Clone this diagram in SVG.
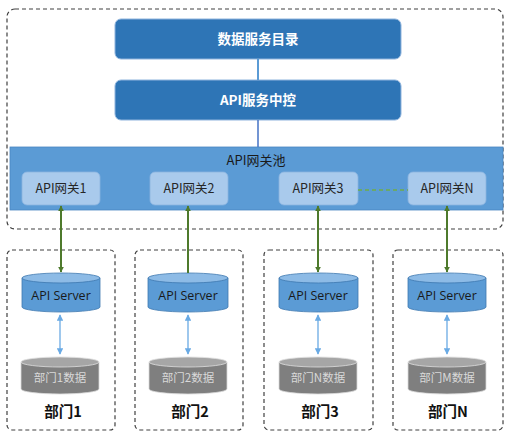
<svg xmlns="http://www.w3.org/2000/svg" width="512" height="438" viewBox="0 0 512 438">
<defs>
<style>
.dash{fill:none;stroke:#404040;stroke-width:1.2;stroke-dasharray:4 3}
.top{fill:#2e75b6;stroke:#8fb4dd;stroke-width:1}
.tt{font-family:"Noto Sans CJK SC",sans-serif;font-size:13.5px;font-weight:bold;fill:#fff;text-anchor:middle}
.gw{fill:#a9caec;stroke:#8ab4e0;stroke-width:0.8}
.gt{font-family:"Noto Sans CJK SC",sans-serif;font-size:12.5px;fill:#262626;text-anchor:middle}
.srv{fill:#5b9bd5;stroke:#3f78b0;stroke-width:0.8}
.srvtop{fill:#8dbbe6;stroke:#3f78b0;stroke-width:0.8}
.st{font-family:"Open Sans","Noto Sans",sans-serif;font-size:12.5px;fill:#1a1a1a;text-anchor:middle}
.db{fill:#7f7f7f;stroke:#d9d9d9;stroke-width:0.8}
.dbtop{fill:#a6a6a6;stroke:#e0e0e0;stroke-width:0.8}
.dt{font-family:"Noto Sans CJK SC",sans-serif;font-size:11.5px;fill:#d9d9d9;text-anchor:middle}
.dl{font-family:"Noto Sans CJK SC",sans-serif;font-size:14.5px;font-weight:bold;fill:#111;text-anchor:middle}
.g{stroke:#4e7a2c;stroke-width:2;fill:none}
.b{stroke:#6aaae4;stroke-width:1.3;fill:none}
</style>
<marker id="ag" viewBox="0 0 10 10" refX="9" refY="5" markerWidth="3" markerHeight="3" orient="auto-start-reverse"><path d="M0,0 L10,5 L0,10 z" fill="#4e7a2c"/></marker>
<marker id="ab" viewBox="0 0 10 10" refX="9" refY="5" markerWidth="5" markerHeight="5" orient="auto-start-reverse"><path d="M0,0 L10,5 L0,10 z" fill="#6aaae4"/></marker>
</defs>

<g id="outer"><rect class="dash" x="7" y="9" width="496" height="220" rx="8"/></g>

<g id="dept-boxes">
<rect class="dash" x="7" y="250" width="108" height="180" rx="5"/>
<rect class="dash" x="135" y="250" width="108" height="180" rx="5"/>
<rect class="dash" x="264" y="250" width="109" height="180" rx="5"/>
<rect class="dash" x="393" y="250" width="110" height="180" rx="5"/>
</g>

<g id="catalog"><rect class="top" x="115" y="19" width="286" height="40" rx="6"/><text class="tt" x="258" y="44">数据服务目录</text></g>
<g id="control"><rect class="top" x="115" y="80" width="286" height="40" rx="6"/><text class="tt" x="258" y="105">API服务中控</text></g>

<g id="pool">
<rect x="10" y="147" width="493" height="63" fill="#5b9bd5" stroke="#4a86c0" stroke-width="0.8"/>
<text x="256" y="165" font-family="'Noto Sans CJK SC',sans-serif" font-size="13" fill="#1a1a1a" text-anchor="middle">API网关池</text>
</g>
<g id="gw1"><rect class="gw" x="22" y="172" width="78" height="33" rx="5"/><text class="gt" x="61" y="193">API网关1</text></g>
<g id="gw2"><rect class="gw" x="150" y="172" width="78" height="33" rx="5"/><text class="gt" x="189" y="193">API网关2</text></g>
<g id="gw3"><rect class="gw" x="279" y="172" width="79" height="33" rx="5"/><text class="gt" x="318" y="193">API网关3</text></g>
<g id="gwN"><rect class="gw" x="408" y="172" width="78" height="33" rx="5"/><text class="gt" x="447" y="193">API网关N</text></g>

<g id="srv1"><path class="srv" d="M22,278 L22,307 A39,5 0 0 0 100,307 L100,278 Z"/><ellipse class="srvtop" cx="61" cy="278" rx="39" ry="5"/><text class="st" x="61" y="300">API Server</text></g>
<g id="srv2"><path class="srv" d="M148,278 L148,307 A40,5 0 0 0 228,307 L228,278 Z"/><ellipse class="srvtop" cx="188" cy="278" rx="40" ry="5"/><text class="st" x="188" y="300">API Server</text></g>
<g id="srv3"><path class="srv" d="M279,278 L279,307 A39.5,5 0 0 0 358,307 L358,278 Z"/><ellipse class="srvtop" cx="318.5" cy="278" rx="39.5" ry="5"/><text class="st" x="318" y="300">API Server</text></g>
<g id="srvN"><path class="srv" d="M408,278 L408,307 A39,5 0 0 0 486,307 L486,278 Z"/><ellipse class="srvtop" cx="447" cy="278" rx="39" ry="5"/><text class="st" x="447" y="300">API Server</text></g>

<g id="db1"><path class="db" d="M21,362 L21,389 A39,5 0 0 0 99,389 L99,362 Z"/><ellipse class="dbtop" cx="60" cy="362" rx="39" ry="5"/><text class="dt" x="60" y="382">部门1数据</text></g>
<g id="db2"><path class="db" d="M149,362 L149,389 A39,5 0 0 0 227,389 L227,362 Z"/><ellipse class="dbtop" cx="188" cy="362" rx="39" ry="5"/><text class="dt" x="188" y="382">部门2数据</text></g>
<g id="db3"><path class="db" d="M279,362 L279,389 A39,5 0 0 0 357,389 L357,362 Z"/><ellipse class="dbtop" cx="318" cy="362" rx="39" ry="5"/><text class="dt" x="318" y="382">部门N数据</text></g>
<g id="dbN"><path class="db" d="M408,362 L408,389 A39,5 0 0 0 486,389 L486,362 Z"/><ellipse class="dbtop" cx="447" cy="362" rx="39" ry="5"/><text class="dt" x="447" y="382">部门M数据</text></g>

<g id="labels">
<text class="dl" x="63" y="417">部门1</text>
<text class="dl" x="190" y="417">部门2</text>
<text class="dl" x="320" y="417">部门3</text>
<text class="dl" x="448" y="417">部门N</text>
</g>

<g id="connectors">
<line x1="258" y1="59" x2="258" y2="80" stroke="#5b9bd5" stroke-width="2"/>
<line x1="258" y1="120" x2="258" y2="147" stroke="#4472c4" stroke-width="1.5"/>
<line x1="358" y1="190" x2="408" y2="190" stroke="#70ad47" stroke-width="1.5" stroke-dasharray="4 3"/>
<line class="g" x1="61" y1="206" x2="61" y2="272" marker-start="url(#ag)" marker-end="url(#ag)"/>
<line class="g" x1="188" y1="206" x2="188" y2="273" marker-start="url(#ag)"/>
<line class="g" x1="318" y1="206" x2="318" y2="272" marker-start="url(#ag)" marker-end="url(#ag)"/>
<line class="g" x1="447" y1="206" x2="447" y2="272" marker-start="url(#ag)" marker-end="url(#ag)"/>
<line class="b" x1="60" y1="315" x2="60" y2="354" marker-start="url(#ab)" marker-end="url(#ab)"/>
<line class="b" x1="188" y1="315" x2="188" y2="354" marker-start="url(#ab)" marker-end="url(#ab)"/>
<line class="b" x1="318" y1="315" x2="318" y2="354" marker-start="url(#ab)" marker-end="url(#ab)"/>
<line class="b" x1="447" y1="315" x2="447" y2="354" marker-start="url(#ab)" marker-end="url(#ab)"/>
</g>
</svg>
